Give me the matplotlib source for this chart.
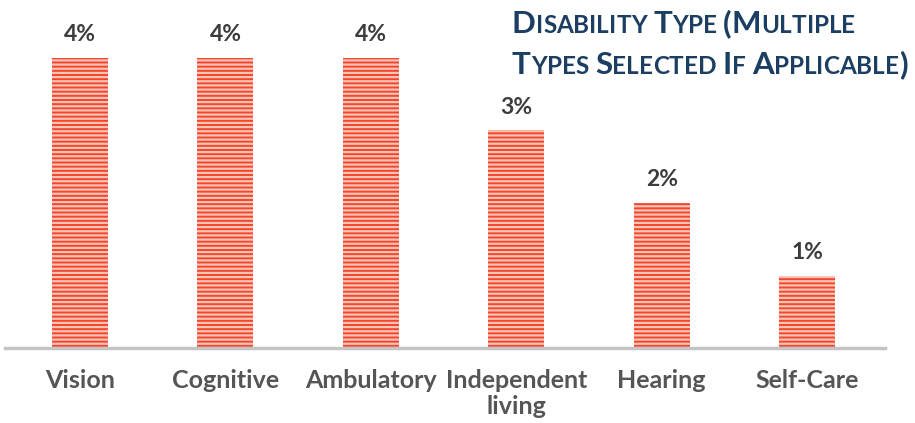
import matplotlib
matplotlib.use("Agg")
import matplotlib.pyplot as plt

categories = ["Vision", "Cognitive", "Ambulatory", "Independent\nliving", "Hearing", "Self-Care"]
values = [4, 4, 4, 3, 2, 1]
value_labels = ["4%", "4%", "4%", "3%", "2%", "1%"]

title_lines = ["Disability Type (Multiple", "Types Selected If Applicable)"]

plt.rcParams['font.family'] = ['Lato', 'DejaVu Sans']
plt.rcParams['hatch.linewidth'] = 1.6

fig = plt.figure(figsize=(9.15, 4.23), dpi=100)
ax = fig.add_axes([5 / 915, 75 / 423, 880 / 915, 348 / 423])

x = list(range(len(categories)))
ax.bar(x, values, width=0.385, color="#f2452b", edgecolor="#fbc3b6",
       linewidth=0, hatch="----")

for xi, v, lab in zip(x, values, value_labels):
    ax.annotate(lab, (xi, v), xytext=(0, 12), textcoords="offset points",
                ha="center", va="baseline", fontsize=16.5, fontweight="bold",
                color="#3c3c3c")

ax.set_xlim(-0.516, 5.536)
ax.set_ylim(0, 4.8)
ax.set_xticks(x)
ax.set_xticklabels(categories, fontsize=18, fontweight="bold", color="#555555",
                   linespacing=1.15)
ax.tick_params(axis="x", length=0, pad=15)
ax.set_yticks([])
for s in ["top", "left", "right"]:
    ax.spines[s].set_visible(False)
ax.spines["bottom"].set_color("#c4c4c4")
ax.spines["bottom"].set_linewidth(2.5)

# title in small caps, built piece by piece
renderer = fig.canvas.get_renderer()
big, small = 22.5, 17.5
navy = "#1b3e62"
y0 = 1 - 33 / 423
for line in title_lines:
    xpos = 512 / 915
    for w_i, word in enumerate(line.split(" ")):
        if w_i > 0:
            word = " " + word
        for ch in word:
            size = big if (ch.isupper() or ch in "()") else small
            t = fig.text(xpos, y0, ch.upper(), fontsize=size, fontweight="bold",
                         color=navy, ha="left", va="baseline")
            bb = t.get_window_extent(renderer)
            xpos += bb.width / fig.bbox.width if ch != " " else 0.007
    y0 -= 41 / 423

fig.savefig("out.png", dpi=100)
